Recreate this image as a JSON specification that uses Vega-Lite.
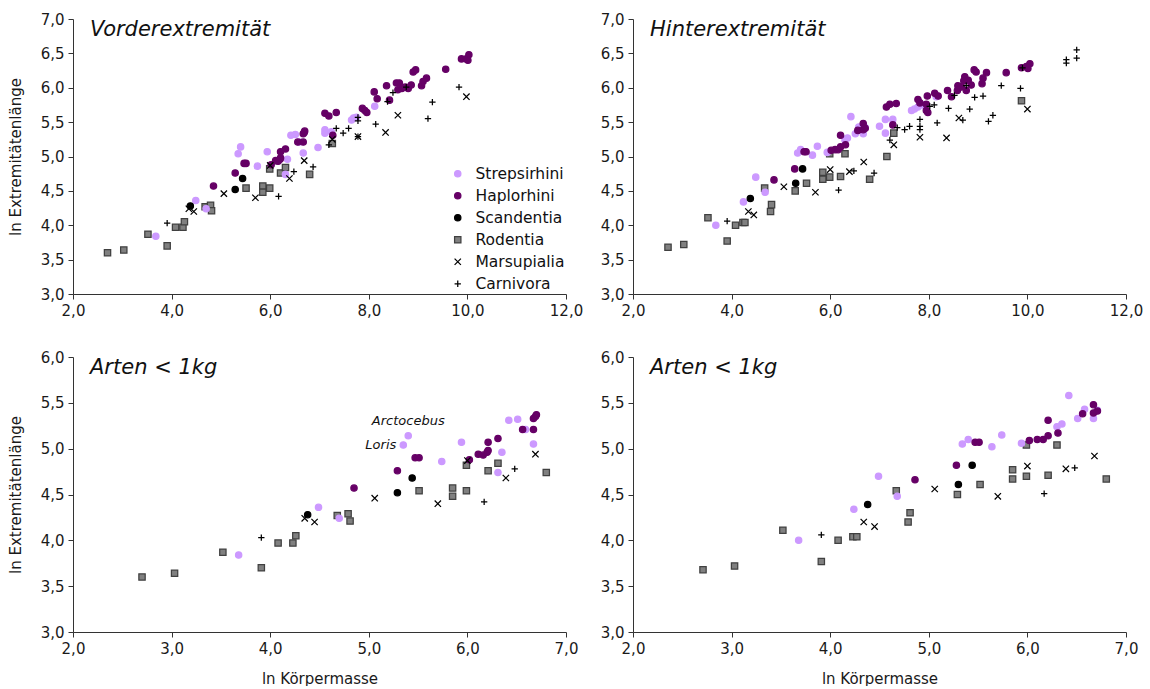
{
  "$schema": "https://vega.github.io/schema/vega-lite/v6.json",
  "padding": {"left": 8, "top": 12, "right": 5, "bottom": 0},
  "background": "white",
  "columns": 2,
  "bounds": "flush",
  "spacing": {"row": 63, "column": 67},
  "resolve": {
    "scale": {"x": "independent", "y": "independent", "shape": "independent", "fill": "independent", "stroke": "independent", "size": "independent"},
    "legend": {"shape": "independent", "fill": "independent", "stroke": "independent", "size": "independent"}
  },
  "datasets": {
    "vorder": [
      {"g": "Rodentia", "x": 2.70, "y": 3.60}, {"g": "Rodentia", "x": 3.03, "y": 3.64}, {"g": "Rodentia", "x": 3.52, "y": 3.87}, {"g": "Rodentia", "x": 3.91, "y": 3.70}, {"g": "Rodentia", "x": 4.08, "y": 3.97}, {"g": "Rodentia", "x": 4.23, "y": 3.97}, {"g": "Rodentia", "x": 4.26, "y": 4.05}, {"g": "Rodentia", "x": 4.68, "y": 4.27}, {"g": "Rodentia", "x": 4.79, "y": 4.29}, {"g": "Rodentia", "x": 4.81, "y": 4.21}, {"g": "Rodentia", "x": 5.51, "y": 4.54}, {"g": "Rodentia", "x": 5.85, "y": 4.57}, {"g": "Rodentia", "x": 5.85, "y": 4.48}, {"g": "Rodentia", "x": 5.99, "y": 4.54}, {"g": "Rodentia", "x": 5.99, "y": 4.82}, {"g": "Rodentia", "x": 6.21, "y": 4.76}, {"g": "Rodentia", "x": 6.31, "y": 4.84}, {"g": "Rodentia", "x": 6.80, "y": 4.74}, {"g": "Rodentia", "x": 7.26, "y": 5.19},
      {"g": "Strepsirhini", "x": 3.68, "y": 3.84}, {"g": "Strepsirhini", "x": 4.49, "y": 4.36}, {"g": "Strepsirhini", "x": 4.70, "y": 4.24}, {"g": "Strepsirhini", "x": 5.35, "y": 5.04, "lab": "Loris"}, {"g": "Strepsirhini", "x": 5.40, "y": 5.14, "lab": "Arctocebus"}, {"g": "Strepsirhini", "x": 5.74, "y": 4.86}, {"g": "Strepsirhini", "x": 5.94, "y": 5.07}, {"g": "Strepsirhini", "x": 6.31, "y": 4.74}, {"g": "Strepsirhini", "x": 6.35, "y": 4.96}, {"g": "Strepsirhini", "x": 6.42, "y": 5.31}, {"g": "Strepsirhini", "x": 6.51, "y": 5.32}, {"g": "Strepsirhini", "x": 6.59, "y": 5.21}, {"g": "Strepsirhini", "x": 6.67, "y": 5.05}, {"g": "Strepsirhini", "x": 6.97, "y": 5.13}, {"g": "Strepsirhini", "x": 7.11, "y": 5.39}, {"g": "Strepsirhini", "x": 7.11, "y": 5.34}, {"g": "Strepsirhini", "x": 7.24, "y": 5.36}, {"g": "Strepsirhini", "x": 7.65, "y": 5.53}, {"g": "Strepsirhini", "x": 7.69, "y": 5.56}, {"g": "Strepsirhini", "x": 7.75, "y": 5.57}, {"g": "Strepsirhini", "x": 8.12, "y": 5.73},
      {"g": "Haplorhini", "x": 4.85, "y": 4.57}, {"g": "Haplorhini", "x": 5.29, "y": 4.76}, {"g": "Haplorhini", "x": 5.47, "y": 4.90}, {"g": "Haplorhini", "x": 5.51, "y": 4.90}, {"g": "Haplorhini", "x": 6.02, "y": 4.88}, {"g": "Haplorhini", "x": 6.11, "y": 4.94}, {"g": "Haplorhini", "x": 6.16, "y": 4.93}, {"g": "Haplorhini", "x": 6.20, "y": 4.96}, {"g": "Haplorhini", "x": 6.21, "y": 4.98}, {"g": "Haplorhini", "x": 6.21, "y": 5.07}, {"g": "Haplorhini", "x": 6.31, "y": 5.11}, {"g": "Haplorhini", "x": 6.56, "y": 5.21}, {"g": "Haplorhini", "x": 6.67, "y": 5.33}, {"g": "Haplorhini", "x": 6.69, "y": 5.35}, {"g": "Haplorhini", "x": 6.70, "y": 5.37}, {"g": "Haplorhini", "x": 6.67, "y": 5.21}, {"g": "Haplorhini", "x": 7.11, "y": 5.63}, {"g": "Haplorhini", "x": 7.19, "y": 5.59}, {"g": "Haplorhini", "x": 7.34, "y": 5.64}, {"g": "Haplorhini", "x": 7.27, "y": 5.31}, {"g": "Haplorhini", "x": 7.87, "y": 5.70}, {"g": "Haplorhini", "x": 7.92, "y": 5.67}, {"g": "Haplorhini", "x": 7.96, "y": 5.64}, {"g": "Haplorhini", "x": 8.11, "y": 5.94}, {"g": "Haplorhini", "x": 8.17, "y": 5.84}, {"g": "Haplorhini", "x": 8.36, "y": 6.03}, {"g": "Haplorhini", "x": 8.42, "y": 5.82}, {"g": "Haplorhini", "x": 8.56, "y": 6.07}, {"g": "Haplorhini", "x": 8.62, "y": 6.07}, {"g": "Haplorhini", "x": 8.59, "y": 5.97}, {"g": "Haplorhini", "x": 8.67, "y": 5.99}, {"g": "Haplorhini", "x": 8.74, "y": 6.01}, {"g": "Haplorhini", "x": 8.86, "y": 6.04}, {"g": "Haplorhini", "x": 8.80, "y": 5.99}, {"g": "Haplorhini", "x": 8.90, "y": 6.23}, {"g": "Haplorhini", "x": 8.95, "y": 6.26}, {"g": "Haplorhini", "x": 9.07, "y": 6.03}, {"g": "Haplorhini", "x": 9.10, "y": 6.09}, {"g": "Haplorhini", "x": 9.17, "y": 6.14}, {"g": "Haplorhini", "x": 9.56, "y": 6.27}, {"g": "Haplorhini", "x": 9.88, "y": 6.42}, {"g": "Haplorhini", "x": 9.98, "y": 6.42}, {"g": "Haplorhini", "x": 10.03, "y": 6.48}, {"g": "Haplorhini", "x": 10.01, "y": 6.40},
      {"g": "Scandentia", "x": 4.38, "y": 4.28}, {"g": "Scandentia", "x": 5.29, "y": 4.52}, {"g": "Scandentia", "x": 5.44, "y": 4.68},
      {"g": "Marsupialia", "x": 4.35, "y": 4.24}, {"g": "Marsupialia", "x": 4.45, "y": 4.20}, {"g": "Marsupialia", "x": 5.06, "y": 4.46}, {"g": "Marsupialia", "x": 5.70, "y": 4.40}, {"g": "Marsupialia", "x": 6.00, "y": 4.87}, {"g": "Marsupialia", "x": 6.39, "y": 4.68}, {"g": "Marsupialia", "x": 6.69, "y": 4.94}, {"g": "Marsupialia", "x": 7.26, "y": 5.25}, {"g": "Marsupialia", "x": 7.78, "y": 5.29}, {"g": "Marsupialia", "x": 8.34, "y": 5.35}, {"g": "Marsupialia", "x": 8.59, "y": 5.60}, {"g": "Marsupialia", "x": 9.98, "y": 5.87},
      {"g": "Carnivora", "x": 3.91, "y": 4.03}, {"g": "Carnivora", "x": 6.17, "y": 4.42}, {"g": "Carnivora", "x": 6.48, "y": 4.78}, {"g": "Carnivora", "x": 6.87, "y": 4.85}, {"g": "Carnivora", "x": 7.19, "y": 5.17}, {"g": "Carnivora", "x": 7.34, "y": 5.41}, {"g": "Carnivora", "x": 7.48, "y": 5.34}, {"g": "Carnivora", "x": 7.59, "y": 5.41}, {"g": "Carnivora", "x": 7.78, "y": 5.57}, {"g": "Carnivora", "x": 7.78, "y": 5.52}, {"g": "Carnivora", "x": 7.78, "y": 5.29}, {"g": "Carnivora", "x": 8.14, "y": 5.47}, {"g": "Carnivora", "x": 8.38, "y": 5.80}, {"g": "Carnivora", "x": 8.49, "y": 5.93}, {"g": "Carnivora", "x": 8.76, "y": 6.01}, {"g": "Carnivora", "x": 9.20, "y": 5.55}, {"g": "Carnivora", "x": 9.29, "y": 5.79}, {"g": "Carnivora", "x": 9.83, "y": 6.01}
    ],
    "hinter": [
      {"g": "Rodentia", "x": 2.71, "y": 3.68}, {"g": "Rodentia", "x": 3.03, "y": 3.72}, {"g": "Rodentia", "x": 3.52, "y": 4.11}, {"g": "Rodentia", "x": 3.91, "y": 3.77}, {"g": "Rodentia", "x": 4.08, "y": 4.00}, {"g": "Rodentia", "x": 4.23, "y": 4.04}, {"g": "Rodentia", "x": 4.27, "y": 4.04}, {"g": "Rodentia", "x": 4.67, "y": 4.54}, {"g": "Rodentia", "x": 4.79, "y": 4.20}, {"g": "Rodentia", "x": 4.81, "y": 4.30}, {"g": "Rodentia", "x": 5.29, "y": 4.50}, {"g": "Rodentia", "x": 5.52, "y": 4.61}, {"g": "Rodentia", "x": 5.85, "y": 4.77}, {"g": "Rodentia", "x": 5.85, "y": 4.67}, {"g": "Rodentia", "x": 5.99, "y": 5.04}, {"g": "Rodentia", "x": 5.99, "y": 4.70}, {"g": "Rodentia", "x": 6.21, "y": 4.71}, {"g": "Rodentia", "x": 6.30, "y": 5.04}, {"g": "Rodentia", "x": 6.80, "y": 4.67}, {"g": "Rodentia", "x": 7.15, "y": 5.00}, {"g": "Rodentia", "x": 7.29, "y": 5.34}, {"g": "Rodentia", "x": 9.88, "y": 5.81},
      {"g": "Strepsirhini", "x": 3.68, "y": 4.00}, {"g": "Strepsirhini", "x": 4.24, "y": 4.34}, {"g": "Strepsirhini", "x": 4.49, "y": 4.70}, {"g": "Strepsirhini", "x": 4.68, "y": 4.48}, {"g": "Strepsirhini", "x": 5.34, "y": 5.05}, {"g": "Strepsirhini", "x": 5.40, "y": 5.10}, {"g": "Strepsirhini", "x": 5.64, "y": 5.02}, {"g": "Strepsirhini", "x": 5.74, "y": 5.15}, {"g": "Strepsirhini", "x": 5.94, "y": 5.06}, {"g": "Strepsirhini", "x": 6.30, "y": 5.24}, {"g": "Strepsirhini", "x": 6.35, "y": 5.27}, {"g": "Strepsirhini", "x": 6.42, "y": 5.58}, {"g": "Strepsirhini", "x": 6.51, "y": 5.33}, {"g": "Strepsirhini", "x": 6.58, "y": 5.43}, {"g": "Strepsirhini", "x": 6.67, "y": 5.33}, {"g": "Strepsirhini", "x": 6.71, "y": 5.42}, {"g": "Strepsirhini", "x": 7.00, "y": 5.44}, {"g": "Strepsirhini", "x": 7.12, "y": 5.54}, {"g": "Strepsirhini", "x": 7.12, "y": 5.34}, {"g": "Strepsirhini", "x": 7.27, "y": 5.54}, {"g": "Strepsirhini", "x": 7.65, "y": 5.67}, {"g": "Strepsirhini", "x": 7.71, "y": 5.69}, {"g": "Strepsirhini", "x": 7.78, "y": 5.72}, {"g": "Strepsirhini", "x": 7.88, "y": 5.75}, {"g": "Strepsirhini", "x": 8.15, "y": 5.87},
      {"g": "Haplorhini", "x": 4.86, "y": 4.66}, {"g": "Haplorhini", "x": 5.28, "y": 4.82}, {"g": "Haplorhini", "x": 5.47, "y": 5.07}, {"g": "Haplorhini", "x": 5.51, "y": 5.07}, {"g": "Haplorhini", "x": 6.02, "y": 5.09}, {"g": "Haplorhini", "x": 6.10, "y": 5.10}, {"g": "Haplorhini", "x": 6.16, "y": 5.10}, {"g": "Haplorhini", "x": 6.21, "y": 5.14}, {"g": "Haplorhini", "x": 6.31, "y": 5.17}, {"g": "Haplorhini", "x": 6.21, "y": 5.31}, {"g": "Haplorhini", "x": 6.56, "y": 5.38}, {"g": "Haplorhini", "x": 6.67, "y": 5.48}, {"g": "Haplorhini", "x": 6.67, "y": 5.39}, {"g": "Haplorhini", "x": 6.71, "y": 5.41}, {"g": "Haplorhini", "x": 7.14, "y": 5.72}, {"g": "Haplorhini", "x": 7.21, "y": 5.76}, {"g": "Haplorhini", "x": 7.34, "y": 5.77}, {"g": "Haplorhini", "x": 7.27, "y": 5.46}, {"g": "Haplorhini", "x": 7.78, "y": 5.83}, {"g": "Haplorhini", "x": 7.82, "y": 5.78}, {"g": "Haplorhini", "x": 7.95, "y": 5.76}, {"g": "Haplorhini", "x": 7.98, "y": 5.64}, {"g": "Haplorhini", "x": 7.95, "y": 5.67}, {"g": "Haplorhini", "x": 7.97, "y": 5.88}, {"g": "Haplorhini", "x": 8.12, "y": 5.92}, {"g": "Haplorhini", "x": 8.19, "y": 5.88}, {"g": "Haplorhini", "x": 8.38, "y": 5.96}, {"g": "Haplorhini", "x": 8.46, "y": 5.87}, {"g": "Haplorhini", "x": 8.58, "y": 5.96}, {"g": "Haplorhini", "x": 8.59, "y": 6.03}, {"g": "Haplorhini", "x": 8.66, "y": 6.01}, {"g": "Haplorhini", "x": 8.73, "y": 6.16}, {"g": "Haplorhini", "x": 8.80, "y": 6.11}, {"g": "Haplorhini", "x": 8.71, "y": 6.10}, {"g": "Haplorhini", "x": 8.86, "y": 6.04}, {"g": "Haplorhini", "x": 8.76, "y": 5.96}, {"g": "Haplorhini", "x": 8.92, "y": 6.26}, {"g": "Haplorhini", "x": 8.96, "y": 6.23}, {"g": "Haplorhini", "x": 9.17, "y": 6.22}, {"g": "Haplorhini", "x": 9.10, "y": 6.14}, {"g": "Haplorhini", "x": 9.08, "y": 6.06}, {"g": "Haplorhini", "x": 9.57, "y": 6.22}, {"g": "Haplorhini", "x": 9.88, "y": 6.29}, {"g": "Haplorhini", "x": 9.98, "y": 6.31}, {"g": "Haplorhini", "x": 10.05, "y": 6.35}, {"g": "Haplorhini", "x": 10.01, "y": 6.28},
      {"g": "Scandentia", "x": 4.38, "y": 4.39}, {"g": "Scandentia", "x": 5.30, "y": 4.61}, {"g": "Scandentia", "x": 5.44, "y": 4.82},
      {"g": "Marsupialia", "x": 4.34, "y": 4.20}, {"g": "Marsupialia", "x": 4.45, "y": 4.15}, {"g": "Marsupialia", "x": 5.06, "y": 4.56}, {"g": "Marsupialia", "x": 5.70, "y": 4.48}, {"g": "Marsupialia", "x": 6.00, "y": 4.81}, {"g": "Marsupialia", "x": 6.39, "y": 4.78}, {"g": "Marsupialia", "x": 6.68, "y": 4.92}, {"g": "Marsupialia", "x": 7.29, "y": 5.17}, {"g": "Marsupialia", "x": 7.82, "y": 5.28}, {"g": "Marsupialia", "x": 8.36, "y": 5.27}, {"g": "Marsupialia", "x": 8.61, "y": 5.56}, {"g": "Marsupialia", "x": 10.00, "y": 5.69},
      {"g": "Carnivora", "x": 3.91, "y": 4.06}, {"g": "Carnivora", "x": 6.17, "y": 4.51}, {"g": "Carnivora", "x": 6.48, "y": 4.79}, {"g": "Carnivora", "x": 6.89, "y": 4.76}, {"g": "Carnivora", "x": 7.21, "y": 5.24}, {"g": "Carnivora", "x": 7.36, "y": 5.42}, {"g": "Carnivora", "x": 7.51, "y": 5.39}, {"g": "Carnivora", "x": 7.61, "y": 5.44}, {"g": "Carnivora", "x": 7.82, "y": 5.54}, {"g": "Carnivora", "x": 7.82, "y": 5.44}, {"g": "Carnivora", "x": 7.82, "y": 5.39}, {"g": "Carnivora", "x": 8.02, "y": 5.73}, {"g": "Carnivora", "x": 8.11, "y": 5.75}, {"g": "Carnivora", "x": 8.17, "y": 5.49}, {"g": "Carnivora", "x": 8.40, "y": 5.70}, {"g": "Carnivora", "x": 8.52, "y": 5.89}, {"g": "Carnivora", "x": 8.69, "y": 5.53}, {"g": "Carnivora", "x": 8.76, "y": 6.03}, {"g": "Carnivora", "x": 8.83, "y": 5.69}, {"g": "Carnivora", "x": 8.93, "y": 5.86}, {"g": "Carnivora", "x": 9.10, "y": 5.88}, {"g": "Carnivora", "x": 9.21, "y": 5.51}, {"g": "Carnivora", "x": 9.30, "y": 5.60}, {"g": "Carnivora", "x": 9.47, "y": 6.03}, {"g": "Carnivora", "x": 9.86, "y": 5.99}, {"g": "Carnivora", "x": 9.90, "y": 6.29}, {"g": "Carnivora", "x": 10.79, "y": 6.41}, {"g": "Carnivora", "x": 10.79, "y": 6.36}, {"g": "Carnivora", "x": 11.00, "y": 6.55}, {"g": "Carnivora", "x": 11.00, "y": 6.43}
    ]
  },
  "concat": [
    {
      "width": 493, "height": 275,
      "layer": [
        {
          "data": {"name": "vorder"},
          "mark": {"type": "point", "filled": true, "opacity": 1, "strokeWidth": 1.25},
          "encoding": {
            "x": {"field": "x", "type": "quantitative", "scale": {"domain": [2, 12], "nice": false, "zero": false}, "axis": {"values": [2, 4, 6, 8, 10, 12], "title": null}},
            "y": {"field": "y", "type": "quantitative", "scale": {"domain": [3, 7], "nice": false, "zero": false}, "axis": {"values": [3, 3.5, 4, 4.5, 5, 5.5, 6, 6.5, 7], "title": "ln Extremitätenlänge"}},
            "shape": {"field": "g", "type": "nominal", "scale": {"domain": ["Strepsirhini", "Haplorhini", "Scandentia", "Rodentia", "Marsupialia", "Carnivora"], "range": ["circle", "circle", "circle", "square", "M-1,-1L1,1M-1,1L1,-1", "M0,-1L0,1M-1,0L1,0"]}, "legend": {"title": null, "orient": "bottom-right", "offset": 1, "padding": 0, "labelFontSize": 15.5, "labelColor": "#111", "rowPadding": 5, "labelOffset": 10, "symbolStrokeWidth": 1.25}},
            "fill": {"field": "g", "type": "nominal", "scale": {"domain": ["Strepsirhini", "Haplorhini", "Scandentia", "Rodentia", "Marsupialia", "Carnivora"], "range": ["#cc99ff", "#660066", "#000000", "#808080", "transparent", "transparent"]}, "legend": {"title": null, "orient": "bottom-right", "offset": 1, "padding": 0, "labelFontSize": 15.5, "labelColor": "#111", "rowPadding": 5, "labelOffset": 10, "symbolStrokeWidth": 1.25}},
            "stroke": {"field": "g", "type": "nominal", "scale": {"domain": ["Strepsirhini", "Haplorhini", "Scandentia", "Rodentia", "Marsupialia", "Carnivora"], "range": ["#cc99ff", "#660066", "#000000", "#404040", "#000000", "#000000"]}, "legend": {"title": null, "orient": "bottom-right", "offset": 1, "padding": 0, "labelFontSize": 15.5, "labelColor": "#111", "rowPadding": 5, "labelOffset": 10, "symbolStrokeWidth": 1.25}},
            "size": {"field": "g", "type": "nominal", "scale": {"domain": ["Strepsirhini", "Haplorhini", "Scandentia", "Rodentia", "Marsupialia", "Carnivora"], "range": [40, 40, 40, 38, 88, 88]}, "legend": {"title": null, "orient": "bottom-right", "offset": 1, "padding": 0, "labelFontSize": 15.5, "labelColor": "#111", "rowPadding": 5, "labelOffset": 10, "symbolStrokeWidth": 1.25}}
          }
        },
        {
          "data": {"values": [{"t": "Vorderextremität"}]},
          "mark": {"type": "text", "align": "left", "baseline": "middle", "dx": 17, "dy": 11, "fontSize": 21, "fontStyle": "italic", "color": "#111"},
          "encoding": {
            "x": {"datum": 2, "type": "quantitative", "axis": {"values": [2, 4, 6, 8, 10, 12], "title": null}},
            "y": {"datum": 7, "type": "quantitative", "axis": {"values": [3, 3.5, 4, 4.5, 5, 5.5, 6, 6.5, 7], "title": "ln Extremitätenlänge"}},
            "text": {"field": "t"}
          }
        }
      ]
    },
    {
      "width": 493, "height": 275,
      "layer": [
        {
          "data": {"name": "hinter"},
          "mark": {"type": "point", "filled": true, "opacity": 1, "strokeWidth": 1.25},
          "encoding": {
            "x": {"field": "x", "type": "quantitative", "scale": {"domain": [2, 12], "nice": false, "zero": false}, "axis": {"values": [2, 4, 6, 8, 10, 12], "title": null}},
            "y": {"field": "y", "type": "quantitative", "scale": {"domain": [3, 7], "nice": false, "zero": false}, "axis": {"values": [3, 3.5, 4, 4.5, 5, 5.5, 6, 6.5, 7], "title": null}},
            "shape": {"field": "g", "type": "nominal", "scale": {"domain": ["Strepsirhini", "Haplorhini", "Scandentia", "Rodentia", "Marsupialia", "Carnivora"], "range": ["circle", "circle", "circle", "square", "M-1,-1L1,1M-1,1L1,-1", "M0,-1L0,1M-1,0L1,0"]}, "legend": null},
            "fill": {"field": "g", "type": "nominal", "scale": {"domain": ["Strepsirhini", "Haplorhini", "Scandentia", "Rodentia", "Marsupialia", "Carnivora"], "range": ["#cc99ff", "#660066", "#000000", "#808080", "transparent", "transparent"]}, "legend": null},
            "stroke": {"field": "g", "type": "nominal", "scale": {"domain": ["Strepsirhini", "Haplorhini", "Scandentia", "Rodentia", "Marsupialia", "Carnivora"], "range": ["#cc99ff", "#660066", "#000000", "#404040", "#000000", "#000000"]}, "legend": null},
            "size": {"field": "g", "type": "nominal", "scale": {"domain": ["Strepsirhini", "Haplorhini", "Scandentia", "Rodentia", "Marsupialia", "Carnivora"], "range": [40, 40, 40, 38, 88, 88]}, "legend": null}
          }
        },
        {
          "data": {"values": [{"t": "Hinterextremität"}]},
          "mark": {"type": "text", "align": "left", "baseline": "middle", "dx": 17, "dy": 11, "fontSize": 21, "fontStyle": "italic", "color": "#111"},
          "encoding": {
            "x": {"datum": 2, "type": "quantitative", "axis": {"values": [2, 4, 6, 8, 10, 12], "title": null}},
            "y": {"datum": 7, "type": "quantitative", "axis": {"values": [3, 3.5, 4, 4.5, 5, 5.5, 6, 6.5, 7], "title": null}},
            "text": {"field": "t"}
          }
        }
      ]
    },
    {
      "width": 493, "height": 275,
      "layer": [
        {
          "data": {"name": "vorder"},
          "transform": [{"filter": "datum.x < 6.85"}],
          "mark": {"type": "point", "filled": true, "opacity": 1, "strokeWidth": 1.25},
          "encoding": {
            "x": {"field": "x", "type": "quantitative", "scale": {"domain": [2, 7], "nice": false, "zero": false}, "axis": {"values": [2, 3, 4, 5, 6, 7], "title": "ln Körpermasse"}},
            "y": {"field": "y", "type": "quantitative", "scale": {"domain": [3, 6], "nice": false, "zero": false}, "axis": {"values": [3, 3.5, 4, 4.5, 5, 5.5, 6], "title": "ln Extremitätenlänge"}},
            "shape": {"field": "g", "type": "nominal", "scale": {"domain": ["Strepsirhini", "Haplorhini", "Scandentia", "Rodentia", "Marsupialia", "Carnivora"], "range": ["circle", "circle", "circle", "square", "M-1,-1L1,1M-1,1L1,-1", "M0,-1L0,1M-1,0L1,0"]}, "legend": null},
            "fill": {"field": "g", "type": "nominal", "scale": {"domain": ["Strepsirhini", "Haplorhini", "Scandentia", "Rodentia", "Marsupialia", "Carnivora"], "range": ["#cc99ff", "#660066", "#000000", "#808080", "transparent", "transparent"]}, "legend": null},
            "stroke": {"field": "g", "type": "nominal", "scale": {"domain": ["Strepsirhini", "Haplorhini", "Scandentia", "Rodentia", "Marsupialia", "Carnivora"], "range": ["#cc99ff", "#660066", "#000000", "#404040", "#000000", "#000000"]}, "legend": null},
            "size": {"field": "g", "type": "nominal", "scale": {"domain": ["Strepsirhini", "Haplorhini", "Scandentia", "Rodentia", "Marsupialia", "Carnivora"], "range": [40, 40, 40, 38, 88, 88]}, "legend": null}
          }
        },
        {
          "data": {"name": "vorder"},
          "transform": [{"filter": "datum.lab == 'Arctocebus'"}],
          "mark": {"type": "text", "align": "center", "baseline": "middle", "dy": -15, "fontStyle": "italic", "fontSize": 13, "color": "#111"},
          "encoding": {
            "x": {"field": "x", "type": "quantitative", "axis": {"values": [2, 3, 4, 5, 6, 7], "title": "ln Körpermasse"}},
            "y": {"field": "y", "type": "quantitative", "axis": {"values": [3, 3.5, 4, 4.5, 5, 5.5, 6], "title": "ln Extremitätenlänge"}},
            "text": {"field": "lab"}
          }
        },
        {
          "data": {"name": "vorder"},
          "transform": [{"filter": "datum.lab == 'Loris'"}],
          "mark": {"type": "text", "align": "right", "baseline": "middle", "dx": -7, "fontStyle": "italic", "fontSize": 13, "color": "#111"},
          "encoding": {
            "x": {"field": "x", "type": "quantitative", "axis": {"values": [2, 3, 4, 5, 6, 7], "title": "ln Körpermasse"}},
            "y": {"field": "y", "type": "quantitative", "axis": {"values": [3, 3.5, 4, 4.5, 5, 5.5, 6], "title": "ln Extremitätenlänge"}},
            "text": {"field": "lab"}
          }
        },
        {
          "data": {"values": [{"t": "Arten < 1kg"}]},
          "mark": {"type": "text", "align": "left", "baseline": "middle", "dx": 17, "dy": 11, "fontSize": 21, "fontStyle": "italic", "color": "#111"},
          "encoding": {
            "x": {"datum": 2, "type": "quantitative", "axis": {"values": [2, 3, 4, 5, 6, 7], "title": "ln Körpermasse"}},
            "y": {"datum": 6, "type": "quantitative", "axis": {"values": [3, 3.5, 4, 4.5, 5, 5.5, 6], "title": "ln Extremitätenlänge"}},
            "text": {"field": "t"}
          }
        }
      ]
    },
    {
      "width": 493, "height": 275,
      "layer": [
        {
          "data": {"name": "hinter"},
          "transform": [{"filter": "datum.x < 6.85"}],
          "mark": {"type": "point", "filled": true, "opacity": 1, "strokeWidth": 1.25},
          "encoding": {
            "x": {"field": "x", "type": "quantitative", "scale": {"domain": [2, 7], "nice": false, "zero": false}, "axis": {"values": [2, 3, 4, 5, 6, 7], "title": "ln Körpermasse"}},
            "y": {"field": "y", "type": "quantitative", "scale": {"domain": [3, 6], "nice": false, "zero": false}, "axis": {"values": [3, 3.5, 4, 4.5, 5, 5.5, 6], "title": null}},
            "shape": {"field": "g", "type": "nominal", "scale": {"domain": ["Strepsirhini", "Haplorhini", "Scandentia", "Rodentia", "Marsupialia", "Carnivora"], "range": ["circle", "circle", "circle", "square", "M-1,-1L1,1M-1,1L1,-1", "M0,-1L0,1M-1,0L1,0"]}, "legend": null},
            "fill": {"field": "g", "type": "nominal", "scale": {"domain": ["Strepsirhini", "Haplorhini", "Scandentia", "Rodentia", "Marsupialia", "Carnivora"], "range": ["#cc99ff", "#660066", "#000000", "#808080", "transparent", "transparent"]}, "legend": null},
            "stroke": {"field": "g", "type": "nominal", "scale": {"domain": ["Strepsirhini", "Haplorhini", "Scandentia", "Rodentia", "Marsupialia", "Carnivora"], "range": ["#cc99ff", "#660066", "#000000", "#404040", "#000000", "#000000"]}, "legend": null},
            "size": {"field": "g", "type": "nominal", "scale": {"domain": ["Strepsirhini", "Haplorhini", "Scandentia", "Rodentia", "Marsupialia", "Carnivora"], "range": [40, 40, 40, 38, 88, 88]}, "legend": null}
          }
        },
        {
          "data": {"values": [{"t": "Arten < 1kg"}]},
          "mark": {"type": "text", "align": "left", "baseline": "middle", "dx": 17, "dy": 11, "fontSize": 21, "fontStyle": "italic", "color": "#111"},
          "encoding": {
            "x": {"datum": 2, "type": "quantitative", "axis": {"values": [2, 3, 4, 5, 6, 7], "title": "ln Körpermasse"}},
            "y": {"datum": 6, "type": "quantitative", "axis": {"values": [3, 3.5, 4, 4.5, 5, 5.5, 6], "title": null}},
            "text": {"field": "t"}
          }
        }
      ]
    }
  ],
  "config": {
    "font": "DejaVu Sans",
    "view": {"stroke": null},
    "axis": {
      "grid": false,
      "domainColor": "#333333",
      "tickColor": "#333333",
      "tickSize": 5,
      "labelFontSize": 15,
      "labelColor": "#1a1a1a",
      "labelPadding": 4,
      "labelFlush": false,
      "labelOverlap": false,
      "labelExpr": "replace(format(datum.value, '.1f'), '.', ',')",
      "titleFontSize": 15,
      "titleFontWeight": "normal",
      "titleColor": "#1a1a1a"
    },
    "axisY": {"titlePadding": 17},
    "axisX": {"titlePadding": 15}
  }
}
